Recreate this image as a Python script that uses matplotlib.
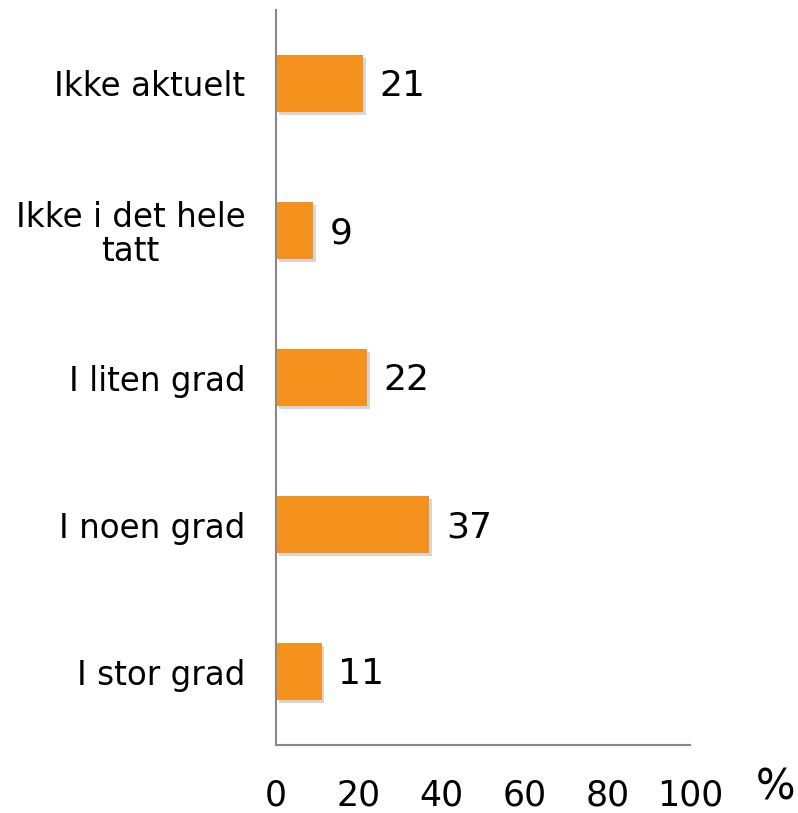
import matplotlib.pyplot as plt
import matplotlib.patheffects as pe

categories = ['I stor grad', 'I noen grad', 'I liten grad', 'Ikke i det hele\ntatt', 'Ikke aktuelt']
values = [11, 37, 22, 9, 21]
xticks = [0, 20, 40, 60, 80, 100]

fig = plt.figure(figsize=(7.98, 8.13), dpi=100)
ax = fig.add_axes([276/798, 1-745/813, 414/798, 735/813])

bars = ax.barh(range(len(values)), values, height=0.39, color='#F5921E',
               path_effects=[pe.SimplePatchShadow(offset=(2, -2), shadow_rgbFace='#999999', alpha=0.4), pe.Normal()])

for i, v in enumerate(values):
    ax.annotate(str(v), (v, i), xytext=(12, -2), textcoords='offset points',
                va='center', ha='left', fontsize=26)

ax.set_xlim(0, 100)
ax.set_ylim(-0.5, 4.5)
ax.set_xticks(xticks)
ax.set_xticklabels([str(t) for t in xticks], fontsize=25)
ax.set_yticks(range(len(categories)))
ax.set_yticklabels(categories, fontsize=23.5, multialignment='center', linespacing=1.05)
ax.tick_params(axis='x', length=0, pad=24)
ax.tick_params(axis='y', length=0, pad=22)

for s in ['top', 'right']:
    ax.spines[s].set_visible(False)
for s in ['left', 'bottom']:
    ax.spines[s].set_color('#888888')
    ax.spines[s].set_linewidth(1.5)

fig.text(775/798, 1-787/813, '%', fontsize=30, ha='center', va='center')

plt.savefig('out.png', dpi=100)
